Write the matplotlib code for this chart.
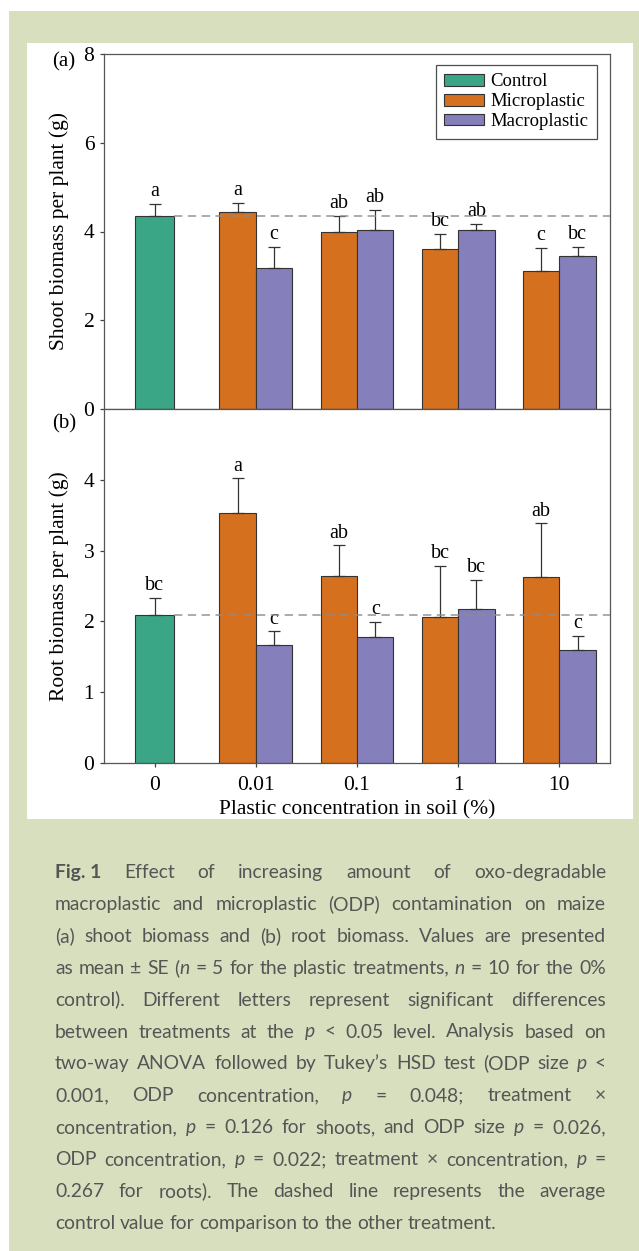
import re
import numpy as np
import matplotlib
matplotlib.use('Agg')
import matplotlib.pyplot as plt
from matplotlib.patches import Rectangle, Patch

# ---- data ----
conc_labels = ['0', '0.01', '0.1', '1', '10']

shoot_ctrl, shoot_ctrl_se = 4.35, 0.28
shoot_micro = [4.45, 4.00, 3.60, 3.10]
shoot_micro_se = [0.20, 0.35, 0.34, 0.535]
shoot_macro = [3.18, 4.045, 4.045, 3.44]
shoot_macro_se = [0.47, 0.44, 0.13, 0.22]
shoot_letters_ctrl = 'a'
shoot_letters_micro = ['a', 'ab', 'bc', 'c']
shoot_letters_macro = ['c', 'ab', 'ab', 'bc']

root_ctrl, root_ctrl_se = 2.085, 0.25
root_micro = [3.535, 2.643, 2.06, 2.634]
root_micro_se = [0.485, 0.43, 0.72, 0.75]
root_macro = [1.66, 1.784, 2.17, 1.596]
root_macro_se = [0.20, 0.21, 0.42, 0.20]
root_letters_ctrl = 'bc'
root_letters_micro = ['a', 'ab', 'bc', 'ab']
root_letters_macro = ['c', 'c', 'bc', 'c']

caption_lines = [
    "**Fig.~1** Effect of increasing amount of oxo-degradable",
    "macroplastic and microplastic (ODP) contamination on maize",
    "(a) shoot biomass and (b) root biomass. Values are presented",
    "as mean ± SE (_n_ = 5 for the plastic treatments, _n_ = 10 for the 0%",
    "control). Different letters represent significant differences",
    "between treatments at the _p_ < 0.05 level. Analysis based on",
    "two-way ANOVA followed by Tukey’s HSD test (ODP size _p_ <",
    "0.001, ODP concentration, _p_ = 0.048; treatment ×",
    "concentration, _p_ = 0.126 for shoots, and ODP size _p_ = 0.026,",
    "ODP concentration, _p_ = 0.022; treatment × concentration, _p_ =",
    "0.267 for roots). The dashed line represents the average",
    "control value for comparison to the other treatment.",
]

# ---- style ----
C_CTRL = '#3aa686'
C_MICRO = '#d5701f'
C_MACRO = '#857fbb'
BG_GREEN = '#d8dfbe'
SERIF = 'Liberation Serif'
FS = 15.5      # axis labels / ticks
FS_LET = 14.5  # significance letters
FS_LEG = 13.5

W, H = 639, 1251
fig = plt.figure(figsize=(W / 100, H / 100), dpi=100)
fig.patch.set_facecolor('white')


def px_rect(x0, y0, x1, y1):
    return [x0 / W, 1 - y1 / H, (x1 - x0) / W, (y1 - y0) / H]


fig.patches.append(Rectangle((9 / W, 0), 1, 1 - 11 / H, transform=fig.transFigure,
                             facecolor=BG_GREEN, edgecolor='none', zorder=-10))
r = px_rect(27, 43, 633, 819)
fig.patches.append(Rectangle((r[0], r[1]), r[2], r[3], transform=fig.transFigure,
                             facecolor='white', edgecolor='none', zorder=-9))

ax_a = fig.add_axes(px_rect(104, 54, 610, 409))
ax_b = fig.add_axes(px_rect(104, 409, 610, 763))

x = np.arange(len(conc_labels))
xp = x[1:]
w_ctrl, w = 0.38, 0.36


def panel(ax, ctrl, ctrl_se, micro, micro_se, macro, macro_se,
          let_c, let_mi, let_ma, ylim, yticks, ylabel):
    bar_kw = dict(edgecolor='#333333', linewidth=0.8, zorder=2)
    ax.bar(0, ctrl, w_ctrl, color=C_CTRL, **bar_kw)
    ax.bar(xp, micro, -w, align='edge', color=C_MICRO, **bar_kw)
    ax.bar(xp, macro, w, align='edge', color=C_MACRO, **bar_kw)

    xs = np.concatenate([[0], xp - w / 2, xp + w / 2])
    ys = np.concatenate([[ctrl], micro, macro])
    es = np.concatenate([[ctrl_se], micro_se, macro_se])
    lets = [let_c] + list(let_mi) + list(let_ma)
    ax.errorbar(xs, ys, yerr=[np.zeros_like(es), es], fmt='none',
                ecolor='#333333', elinewidth=0.9, capsize=4.5, capthick=0.9, zorder=3)
    for xi, yi, ei, lt in zip(xs, ys, es, lets):
        ax.annotate(lt, (xi, yi + ei), xytext=(0, 2), textcoords='offset points',
                    ha='center', va='bottom', fontsize=FS_LET, family=SERIF, zorder=4)

    ln, = ax.plot([w_ctrl / 2, 4.5], [ctrl, ctrl], color='#8c8c8c', lw=1.2,
                  alpha=0.85, zorder=5)
    ln.set_dashes((5, 3.3))

    ax.set_xlim(-0.5, 4.5)
    ax.set_ylim(*ylim)
    ax.set_yticks(yticks)
    ax.set_xticks(x)
    ax.set_ylabel(ylabel, fontsize=FS, family=SERIF)
    ax.tick_params(direction='out', length=3, width=0.9, colors='#444444',
                   labelcolor='black', labelsize=FS, pad=4)
    for lab in ax.get_yticklabels() + ax.get_xticklabels():
        lab.set_family(SERIF)
    for s in ax.spines.values():
        s.set_color('#555555')
        s.set_linewidth(0.9)


panel(ax_a, shoot_ctrl, shoot_ctrl_se, shoot_micro, shoot_micro_se, shoot_macro,
      shoot_macro_se, shoot_letters_ctrl, shoot_letters_micro, shoot_letters_macro,
      (0, 8), [0, 2, 4, 6, 8], 'Shoot biomass per plant (g)')
panel(ax_b, root_ctrl, root_ctrl_se, root_micro, root_micro_se, root_macro,
      root_macro_se, root_letters_ctrl, root_letters_micro, root_letters_macro,
      (0, 5), [0, 1, 2, 3, 4], 'Root biomass per plant (g)')

ax_a.tick_params(axis='x', labelbottom=False)
ax_b.tick_params(axis='x', pad=6)
ax_b.set_xticklabels(conc_labels)
ax_b.set_xlabel('Plastic concentration in soil (%)', fontsize=FS, family=SERIF, labelpad=4)
ax_a.yaxis.set_label_coords(-0.07, 0.5)
ax_b.yaxis.set_label_coords(-0.07, 0.5)

handles = [Patch(facecolor=c, edgecolor='#333333', linewidth=0.8)
           for c in (C_CTRL, C_MICRO, C_MACRO)]
leg = ax_a.legend(handles, ['Control', 'Microplastic', 'Macroplastic'],
                  loc='upper right', bbox_to_anchor=(0.974, 0.969), borderaxespad=0,
                  prop={'family': SERIF, 'size': FS_LEG}, fancybox=False,
                  edgecolor='#222222', handlelength=2.1, handleheight=0.6,
                  handletextpad=0.35, labelspacing=0.15, borderpad=0.45)
leg.get_frame().set_linewidth(0.9)

fig.text(64 / W, 1 - 62 / H, '(a)', ha='center', va='center', fontsize=FS - 0.5, family=SERIF)
fig.text(64 / W, 1 - 424 / H, '(b)', ha='center', va='center', fontsize=FS - 0.5, family=SERIF)

# ---- justified caption ----
CAP_FONT = 'Lato'
CAP_COLOR = '#555555'
rend = fig.canvas.get_renderer()


def parse_word(word):
    pieces = []
    for part in re.split(r'(\*\*[^*]+\*\*|_[^_]+_)', word):
        if not part:
            continue
        if part.startswith('**'):
            pieces.append((part[2:-2].replace('~', ' '), 'bold', 'normal'))
        elif part.startswith('_'):
            pieces.append((part[1:-1], 'normal', 'italic'))
        else:
            pieces.append((part, 'normal', 'normal'))
    return pieces


def measure(txt):
    return txt.get_window_extent(renderer=rend).width


cap_size = 13.9
x0, x1 = 55, 606
base0, dy = 878, 31.9
space_t = fig.text(0, 0, 'a a', fontsize=cap_size, family=CAP_FONT)
nospace_t = fig.text(0, 0, 'aa', fontsize=cap_size, family=CAP_FONT)
space_w = measure(space_t) - measure(nospace_t)
space_t.remove()
nospace_t.remove()

for i, line in enumerate(caption_lines):
    yb = 1 - (base0 + i * dy) / H
    words = []
    for word in line.split(' '):
        objs = []
        for txt, wt, st in parse_word(word):
            t = fig.text(0, yb, txt, fontsize=cap_size, family=CAP_FONT, weight=wt,
                         style=st, color=CAP_COLOR, va='baseline', ha='left')
            objs.append((t, measure(t)))
        words.append(objs)
    widths = [sum(wd for _, wd in objs) for objs in words]
    last = i == len(caption_lines) - 1
    gap = space_w if last else (x1 - x0 - sum(widths)) / (len(words) - 1)
    xc = x0
    for objs, ww in zip(words, widths):
        xx = xc
        for t, wd in objs:
            t.set_x(xx / W)
            xx += wd
        xc += ww + gap

fig.savefig('out.png', dpi=100, facecolor=fig.get_facecolor())
